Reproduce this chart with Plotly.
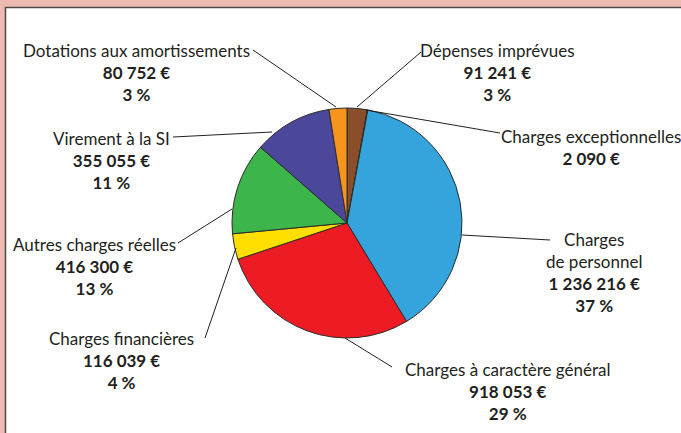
import plotly.graph_objects as go

W, H = 681, 433

# Data (clockwise from 12 o'clock)
categories = ["Dépenses imprévues", "Charges exceptionnelles", "Charges de personnel",
              "Charges à caractère général", "Charges financières", "Autres charges réelles",
              "Virement à la SI", "Dotations aux amortissements"]
amounts = [91241, 2090, 1236216, 918053, 116039, 416300, 355055, 80752]
amount_labels = ["91 241 €", "2 090 €", "1 236 216 €", "918 053 €", "116 039 €",
                 "416 300 €", "355 055 €", "80 752 €"]
pct_labels = ["3 %", "", "37 %", "29 %", "4 %", "13 %", "11 %", "3 %"]
colors = ["#8B4E2B", "#7A3F20", "#35A4DD", "#ED1C24", "#FFDE00", "#3CB54A", "#4B479B", "#F7941D"]

def fx(px):
    return px / W

def fy(py):
    return 1 - py / H

cx, cy, r = 347, 223, 115

fig = go.Figure()
fig.add_trace(go.Pie(
    labels=categories, values=amounts, sort=False, direction="clockwise", rotation=0,
    marker=dict(colors=colors, line=dict(color="#2b2b2b", width=1)),
    textinfo="none", hoverinfo="label+value", showlegend=False,
    domain=dict(x=[fx(cx - r), fx(cx + r)], y=[fy(cy + r), fy(cy - r)]),
))

# label layout: (text center x, text center y, leader line from, leader line to)
label_pos = {
    "Dépenses imprévues": (497, 72, (421, 52), (357, 107)),
    "Charges exceptionnelles": (591, 147, (500, 133), (366, 110)),
    "Charges de personnel": (594, 272, (550, 240), (462, 235)),
    "Charges à caractère général": (508, 391, (392, 367), (345, 338)),
    "Charges financières": (121, 360, (205, 338), (236, 248)),
    "Autres charges réelles": (94, 266, (178, 243), (232, 209)),
    "Virement à la SI": (111, 160, (173, 137), (272, 132)),
    "Dotations aux amortissements": (136, 72, (253, 50), (336, 107)),
}

shapes = [
    dict(type="rect", xref="paper", yref="paper", x0=fx(5.5), x1=1.02, y0=-0.02, y1=fy(7.5),
         fillcolor="white", line=dict(color="#4a4a4a", width=1.5), layer="below"),
]
annotations = []
font = dict(family="Lato, 'Open Sans', sans-serif", size=17, color="#231F20")
for i, name in enumerate(categories):
    tx, ty, p0, p1 = label_pos[name]
    title = "Charges<br>de personnel" if name == "Charges de personnel" else name
    lines = [title, "<b>" + amount_labels[i] + "</b>"]
    if pct_labels[i]:
        lines.append("<b>" + pct_labels[i] + "</b>")
    annotations.append(dict(
        x=fx(tx), y=fy(ty), xref="paper", yref="paper", text="<br>".join(lines),
        showarrow=False, xanchor="center", yanchor="middle", align="center", font=font,
    ))
    shapes.append(dict(type="line", xref="paper", yref="paper",
                       x0=fx(p0[0]), y0=fy(p0[1]), x1=fx(p1[0]), y1=fy(p1[1]),
                       line=dict(color="#231F20", width=1)))

fig.update_layout(
    width=W, height=H, margin=dict(l=0, r=0, t=0, b=0),
    paper_bgcolor="#EDBAAF", plot_bgcolor="rgba(0,0,0,0)",
    shapes=shapes, annotations=annotations,
)
fig.write_html("out.html", config={"displayModeBar": False},
               post_script="document.body.style.margin='0';document.body.style.background='#EDBAAF';")
